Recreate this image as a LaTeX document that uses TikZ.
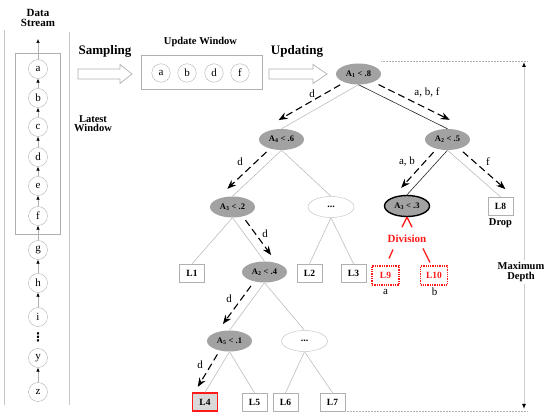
\documentclass[tikz,border=0pt]{standalone}
\usepackage{fontspec}
\setmainfont{Liberation Serif}
\newfontfamily\symfont{DejaVu Sans}
\usetikzlibrary{arrows.meta,calc,shapes.geometric}

\definecolor{edgegray}{HTML}{BDBDBD}
\definecolor{nodegray}{HTML}{A2A2A2}
\definecolor{divred}{HTML}{FF1A1A}
\definecolor{boxgray}{HTML}{B0B0B0}

\tikzset{
  ttl/.style={font=\bfseries\fontsize{#1}{#1}\selectfont, align=center, inner sep=1pt},
  lbl/.style={font=\fontsize{11}{12}\selectfont, inner sep=1pt},
  streamc/.style={circle, draw=boxgray, minimum size=19pt, inner sep=0pt, font=\fontsize{11}{12}\selectfont},
  winc/.style={circle, draw=boxgray, minimum size=18.5pt, inner sep=0pt, font=\fontsize{11}{12}\selectfont},
  inner/.style={ellipse, fill=nodegray, minimum width=45pt, minimum height=21pt, inner sep=0pt, font=\bfseries\fontsize{8.5}{9}\selectfont},
  dotsnode/.style={ellipse, draw=edgegray, fill=white, minimum width=46pt, minimum height=21pt, inner sep=0pt, font=\bfseries\fontsize{10}{10}\selectfont},
  leaf/.style={rectangle, draw=boxgray, fill=white, minimum width=25pt, minimum height=18pt, inner sep=0pt, font=\bfseries\fontsize{9.5}{10}\selectfont},
  newleaf/.style={leaf, draw=divred, densely dotted, line width=1.3pt, text=divred, minimum width=27pt, minimum height=19pt},
  tedge/.style={draw=edgegray, line width=0.6pt},
  dedge/.style={draw=black!85, line width=0.6pt},
  flow/.style={draw=black, line width=1.1pt, dash pattern=on 7pt off 4pt, -{Stealth[length=9pt,width=7pt]}},
  sarrow/.style={draw=boxgray, line width=0.5pt, -{Latex[length=4pt,width=3.5pt,color=black]}},
  hollow/.style={draw=boxgray, line width=0.7pt, fill=white},
  divline/.style={draw=divred, line width=1.3pt},
  guide/.style={draw=gray!60, densely dotted, line width=0.5pt},
  maxarrow/.style={draw=gray!40, line width=1pt, {Latex[length=5pt,width=4pt,color=black]}-{Latex[length=5pt,width=4pt,color=black]}}
}

\newcommand{\flowarr}[3]{%
  \draw[flow] ($(#1.south)!0.18!(#2.north)!9pt!#3:(#2.north)$) -- ($(#1.south)!0.98!(#2.north)!9pt!#3:(#2.north)$);}

\begin{document}
\begin{tikzpicture}[x=1pt,y=-1pt]
\useasboundingbox (0,0) rectangle (550,417);

% ---------- data stream panel ----------
\draw[draw=gray!45, line width=0.7pt] (4,30) -- (4,405);
\draw[draw=gray!45, line width=0.7pt] (69,32) -- (69,405);
\node[ttl=11] (dstitle) at (38,18) {Data\\[-1pt]Stream};
\draw[draw=boxgray, line width=0.6pt] (15,53) rectangle (60,234);

\node[streamc] (sa) at (38,69) {a};
\node[streamc] (sb) at (38,98) {b};
\node[streamc] (sc) at (38,127) {c};
\node[streamc] (sd) at (38,157) {d};
\node[streamc] (se) at (38,186) {e};
\node[streamc] (sf) at (38,216) {f};
\node[streamc] (sg) at (38,250) {g};
\node[streamc] (sh) at (38,283) {h};
\node[streamc] (si) at (38,317) {i};
\node[inner sep=0pt, font=\symfont\bfseries\fontsize{12}{12}\selectfont] (sdots) at (38,337) {⋮};
\node[streamc] (sy) at (38,358) {y};
\node[streamc] (sz) at (38,392) {z};
\coordinate (stop) at (38,39);

\draw[sarrow] (sa) -- (stop);
\draw[sarrow] (sb) -- (sa);
\draw[sarrow] (sc) -- (sb);
\draw[sarrow] (sd) -- (sc);
\draw[sarrow] (se) -- (sd);
\draw[sarrow] (sf) -- (se);
\draw[sarrow] (sg) -- (sf);
\draw[sarrow] (sh) -- (sg);
\draw[sarrow] (si) -- (sh);
\draw[sarrow] (sz) -- (sy);

\node[ttl=10.5] (latest) at (93,123.5) {Latest\\[-1pt]Window};

% ---------- sampling / update window ----------
\node[ttl=13] (sampling) at (105,51) {Sampling};
\draw[hollow] (78,69) -- (120,69) -- (120,64.5) -- (132,74) -- (120,83.5) -- (120,79) -- (78,79) -- cycle;

\node[ttl=10.5] (uwtitle) at (200.5,42) {Update Window};
\draw[draw=boxgray, line width=0.6pt] (141,55) rectangle (262,89);
\node[winc] (wa) at (161,73) {a};
\node[winc] (wb) at (187,73) {b};
\node[winc] (wd) at (214,73) {d};
\node[winc] (wf) at (240,73) {f};

\node[ttl=13] (updating) at (297,51) {Updating};
\draw[hollow] (269,69) -- (313,69) -- (313,64.5) -- (327,74) -- (313,83.5) -- (313,79) -- (269,79) -- cycle;

% ---------- tree ----------
\node[inner] (A1) at (358.5,74) {A\textsubscript{1} < .8};
\node[inner] (A4) at (281.5,139.5) {A\textsubscript{4} < .6};
\node[inner] (A2) at (447.5,139.5) {A\textsubscript{2} < .5};
\node[inner] (A3l) at (232.5,207) {A\textsubscript{3} < .2};
\node[dotsnode] (D1) at (331,207) {...};
\node[inner, draw=black, line width=1.4pt] (A3r) at (407,206) {A\textsubscript{3} < .3};
\node[leaf] (L8) at (500.5,206) {L8};
\node[ttl=10.5] (drop) at (500.5,223.5) {Drop};
\node[leaf] (L1) at (192,273) {L1};
\node[inner] (A2b) at (264.5,272) {A\textsubscript{2} < .4};
\node[leaf] (L2) at (309.5,273) {L2};
\node[leaf] (L3) at (353.5,273) {L3};
\node[newleaf] (L9) at (385.5,275.5) {L9};
\node[newleaf] (L10) at (434,275.5) {L10};
\node[lbl] (la) at (385.5,292) {a};
\node[lbl] (lb) at (434.5,292) {b};
\node[ttl=11, text=divred] (div) at (407,238.5) {Division};
\node[inner] (A5) at (229.5,341) {A\textsubscript{5} < .1};
\node[dotsnode] (D2) at (304.5,341) {...};
\node[leaf, draw=divred, line width=1.3pt, fill=gray!30] (L4) at (205,402) {L4};
\node[leaf] (L5) at (254.5,402) {L5};
\node[leaf] (L6) at (285.5,402) {L6};
\node[leaf] (L7) at (332.5,402) {L7};

% tree edges
\draw[tedge] (A1.south) -- (A4.north);
\draw[dedge] (A1.south) -- (A2.north);
\draw[dedge] (A2.south) -- (A3r.north);
\draw[tedge] (A2.south) -- (L8.north);
\draw[tedge] (A4.south) -- (A3l.north);
\draw[tedge] (A4.south) -- (D1.north);
\draw[tedge] (A3l.south) -- (L1.north);
\draw[tedge] (A3l.south) -- (A2b.north);
\draw[tedge] (D1.south) -- (L2.north);
\draw[tedge] (D1.south) -- (L3.north);
\draw[tedge] (A2b.south) -- (A5.north);
\draw[tedge] (A2b.south) -- (D2.north);
\draw[tedge] (A5.south) -- (L4.north);
\draw[tedge] (A5.south) -- (L5.north);
\draw[tedge] (D2.south) -- (L6.north);
\draw[tedge] (D2.south) -- (L7.north);

% data flow (dashed)
\flowarr{A1}{A4}{-90}
\flowarr{A1}{A2}{90}
\flowarr{A2}{A3r}{-90}
\flowarr{A2}{L8}{90}
\flowarr{A4}{A3l}{-90}
\flowarr{A3l}{A2b}{90}
\flowarr{A2b}{A5}{-90}
\flowarr{A5}{L4}{-90}

\node[lbl] (f1) at (312,94) {d};
\node[lbl] (f2) at (427,92) {a, b, f};
\node[lbl] (f3) at (407,162) {a, b};
\node[lbl] (f4) at (488,162) {f};
\node[lbl] (f5) at (240,162) {d};
\node[lbl] (f6) at (265,234) {d};
\node[lbl] (f7) at (229,299) {d};
\node[lbl] (f8) at (200,365) {d};

% division
\draw[divline] (A3r.south) -- ++(-5,10);
\draw[divline] (A3r.south) -- ++(5,10);
\draw[divline] (div) ++(-14,11) -- ++(-4,9);
\draw[divline] (div) ++(16,10) -- ++(7,14);

% maximum depth
\coordinate (topR) at (527,61);
\coordinate (botR) at (527,411);
\coordinate (mtop) at (524,62);
\coordinate (mbot) at (524,409);
\draw[guide] (A1.east |- topR) -- (topR);
\draw[guide] (L7.east |- botR) -- (botR);
\draw[maxarrow] (mtop) -- (mbot);
\node[ttl=10.5, fill=white, inner sep=2pt] (maxd) at (521,272) {Maximum\\[-1pt]Depth};
\end{tikzpicture}
\end{document}
